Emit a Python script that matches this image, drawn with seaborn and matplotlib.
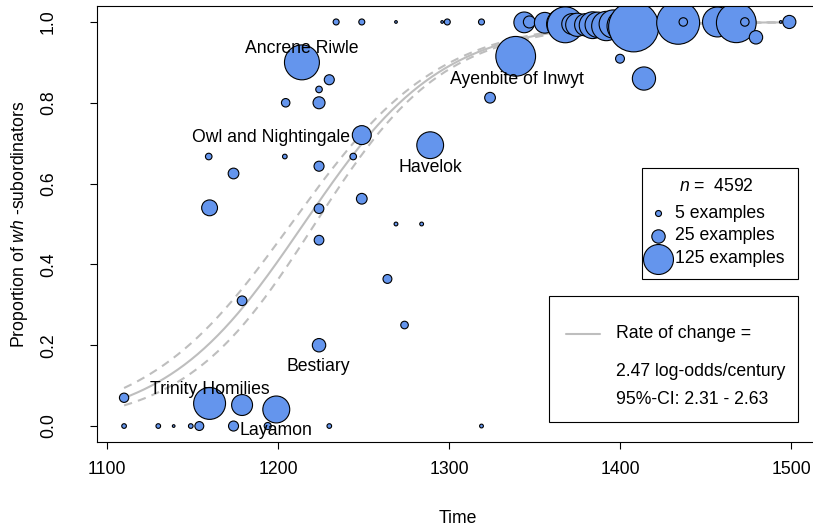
import numpy as np
import pandas as pd
import matplotlib
matplotlib.use("Agg")
import matplotlib.pyplot as plt
from matplotlib.patches import Rectangle
from matplotlib.ticker import FormatStrFormatter
import seaborn as sns

# ---------------------------------------------------------------
# Data: one row per text (date, proportion of wh-forms, examples)
# ---------------------------------------------------------------
year = [1110, 1110, 1130, 1139, 1149, 1154, 1159.5, 1160, 1160, 1174,
        1174, 1179, 1179, 1194, 1199, 1204, 1204.5, 1214, 1224, 1224,
        1224, 1224, 1224, 1224, 1230, 1230, 1234, 1244, 1249, 1249,
        1249, 1264, 1269, 1269, 1274, 1284, 1289, 1296, 1299, 1319,
        1319, 1324, 1339, 1344, 1347, 1356, 1366, 1368, 1372, 1375,
        1380, 1384, 1387, 1392, 1396, 1400, 1402, 1408, 1414, 1434,
        1437, 1457, 1468, 1473, 1479.5, 1494, 1499]
prop = [0.0, 0.07, 0.0, 0.0, 0.0, 0.0, 0.667, 0.54, 0.056, 0.625,
        0.0, 0.31, 0.052, 0.0, 0.041, 0.667, 0.80, 0.90, 0.80, 0.833,
        0.643, 0.538, 0.46, 0.20, 0.857, 0.0, 1.0, 0.667, 0.72, 0.5625,
        1.0, 0.364, 0.5, 1.0, 0.25, 0.5, 0.695, 1.0, 1.0, 1.0,
        0.0, 0.8125, 0.915, 0.999, 1.0, 0.998, 0.995, 0.993, 0.995, 0.993,
        0.993, 0.992, 0.993, 0.99, 0.995, 0.909, 0.99, 0.988, 0.86, 0.998,
        1.0, 1.0, 0.998, 1.0, 0.962, 1.0, 1.0]
n_examples = [3, 12, 3, 1, 3, 11, 6, 35, 142, 16,
              14, 13, 61, 7, 101, 3, 10, 170, 20, 6,
              14, 13, 13, 25, 14, 3, 5, 6, 50, 16,
              5, 11, 2, 1, 8, 2, 100, 1, 5, 5,
              2, 16, 220, 60, 20, 60, 130, 180, 60, 75,
              70, 100, 90, 120, 110, 11, 150, 350, 75, 257,
              10, 125, 220, 10, 25, 1, 24]
text_name = [""] * len(year)
named_texts = {8: "Trinity Homilies", 14: "Layamon", 17: "Ancrene Riwle",
               23: "Bestiary", 28: "Owl and Nightingale", 36: "Havelok",
               42: "Ayenbite of Inwyt"}
for i, name in named_texts.items():
    text_name[i] = name

# Logistic fit summary
RATE = 2.47             # log-odds per century
RATE_CI = (2.31, 2.63)
MIDPOINT = 1215         # year where the fitted proportion is 0.5
N_TOTAL = 4592
LEGEND_SIZES = [5, 25, 125]

df = pd.DataFrame({"year": year, "prop": prop, "n": n_examples, "name": text_name})

# ---------------------------------------------------------------
# Styling
# ---------------------------------------------------------------
sns.set_style("ticks")
plt.rcParams["font.family"] = ["Liberation Sans", "DejaVu Sans"]
plt.rcParams["mathtext.fontset"] = "custom"
plt.rcParams["mathtext.rm"] = "Liberation Sans"
plt.rcParams["mathtext.it"] = "Liberation Sans:italic"
for key in ("text.color", "axes.labelcolor", "xtick.color", "ytick.color",
            "xtick.labelcolor", "ytick.labelcolor"):
    plt.rcParams[key] = "black"
FS = 12.7
FILL = "#6495ED"
CURVE = "#BEBEBE"
AREA_PER_EXAMPLE = 3.72   # marker area (pt^2) per example

W, H = 813, 529
fig = plt.figure(figsize=(W / 100, H / 100), dpi=100)
left, right, top, bottom = 97.4, 817.7, 5.8, 442.2
ax = fig.add_axes([left / W, 1 - bottom / H, (right - left) / W, (bottom - top) / H])

# Fitted curve with confidence band
t = np.linspace(min(year), 1500, 400)
eta = RATE * (t - MIDPOINT) / 100
se_rate = (RATE_CI[1] - RATE_CI[0]) / (2 * 1.96)
se_eta = np.sqrt(0.04 ** 2 + ((t - 1310) / 100 * se_rate) ** 2)
fit = pd.DataFrame({
    "t": t,
    "mid": 1 / (1 + np.exp(-eta)),
    "lo": 1 / (1 + np.exp(-(eta - 1.96 * se_eta))),
    "hi": 1 / (1 + np.exp(-(eta + 1.96 * se_eta))),
})
sns.lineplot(data=fit, x="t", y="mid", color=CURVE, lw=1.5, ax=ax, zorder=1)
for col in ("lo", "hi"):
    sns.lineplot(data=fit, x="t", y=col, color=CURVE, lw=1.5, ax=ax,
                 dashes=False, zorder=1).lines[-1].set_dashes((4, 3))

# Bubbles: area proportional to the number of examples
nmax = max(n_examples)
sns.scatterplot(data=df, x="year", y="prop", size="n",
                sizes=(0, AREA_PER_EXAMPLE * nmax), size_norm=(0, nmax),
                color=FILL, edgecolor="black", linewidth=0.8,
                legend=False, ax=ax, zorder=2)

# Names of selected texts
offsets = {"Ancrene Riwle": ((0, 11.5), "center"),
           "Owl and Nightingale": ((-8.4, 0), "right"),
           "Havelok": ((0, -14.4), "center"),
           "Ayenbite of Inwyt": ((0.7, -15.1), "center"),
           "Bestiary": ((-0.6, -13.7), "center"),
           "Trinity Homilies": ((0, 11.5), "center"),
           "Layamon": ((0, -13.7), "center")}
for _, row in df[df["name"] != ""].iterrows():
    off, ha = offsets[row["name"]]
    ax.annotate(row["name"], (row["year"], row["prop"]), xytext=off,
                textcoords="offset points", ha=ha, va="center_baseline",
                fontsize=FS, color="black", zorder=3)

ax.set_xlim(1094.4, 1515.6)
ax.set_ylim(-0.04, 1.04)
ax.set_xticks([1100, 1200, 1300, 1400, 1500])
ax.set_yticks([0, 0.2, 0.4, 0.6, 0.8, 1.0])
ax.yaxis.set_major_formatter(FormatStrFormatter("%.1f"))
ax.tick_params(axis="both", length=5, width=0.8, color="black",
               labelcolor="black", labelsize=FS)
ax.tick_params(axis="x", pad=8.6)
ax.tick_params(axis="y", pad=24, labelrotation=90)
for lab in ax.get_yticklabels():
    lab.set_va("center")
for sp in ax.spines.values():
    sp.set_color("black")
    sp.set_linewidth(0.8)
ax.set_xlabel("Time", fontsize=FS, labelpad=23, color="black")
ax.set_ylabel(r"Proportion of $\mathit{wh}$ -subordinators", fontsize=FS,
              labelpad=7, color="black")

# ---------------------------------------------------------------
# Legends (drawn in pixel coordinates on an overlay)
# ---------------------------------------------------------------
ov = fig.add_axes([0, 0, 1, 1], zorder=5)
ov.set_xlim(0, W)
ov.set_ylim(H, 0)
ov.axis("off")
ov.patch.set_alpha(0)

ov.add_patch(Rectangle((642, 168), 156, 111, fill=True, facecolor="white",
                       edgecolor="black", lw=0.8))
ov.text(716.7, 186.7, r"$\mathit{n}$ =  " + str(N_TOTAL), ha="center",
        va="center", fontsize=FS)
for ypix, size in zip([213.3, 236, 258.5], LEGEND_SIZES):
    ov.scatter([658.3], [ypix], s=AREA_PER_EXAMPLE * size, color=FILL,
               edgecolor="black", linewidth=0.8, zorder=6)
    ov.text(675, ypix, f"{size} examples", ha="left", va="center",
            fontsize=FS, zorder=5)

ov.add_patch(Rectangle((549, 296), 249, 126, fill=True, facecolor="white",
                       edgecolor="black", lw=0.8))
ov.plot([566, 600], [334, 334], color=CURVE, lw=1.5)
ov.text(616, 334, "Rate of change =", ha="left", va="center", fontsize=FS)
ov.text(616, 372, f"{RATE:.2f} log-odds/century", ha="left", va="center", fontsize=FS)
ov.text(616, 399, f"95%-CI: {RATE_CI[0]:.2f} - {RATE_CI[1]:.2f}", ha="left",
        va="center", fontsize=FS)

fig.savefig("out.png", dpi=100)
